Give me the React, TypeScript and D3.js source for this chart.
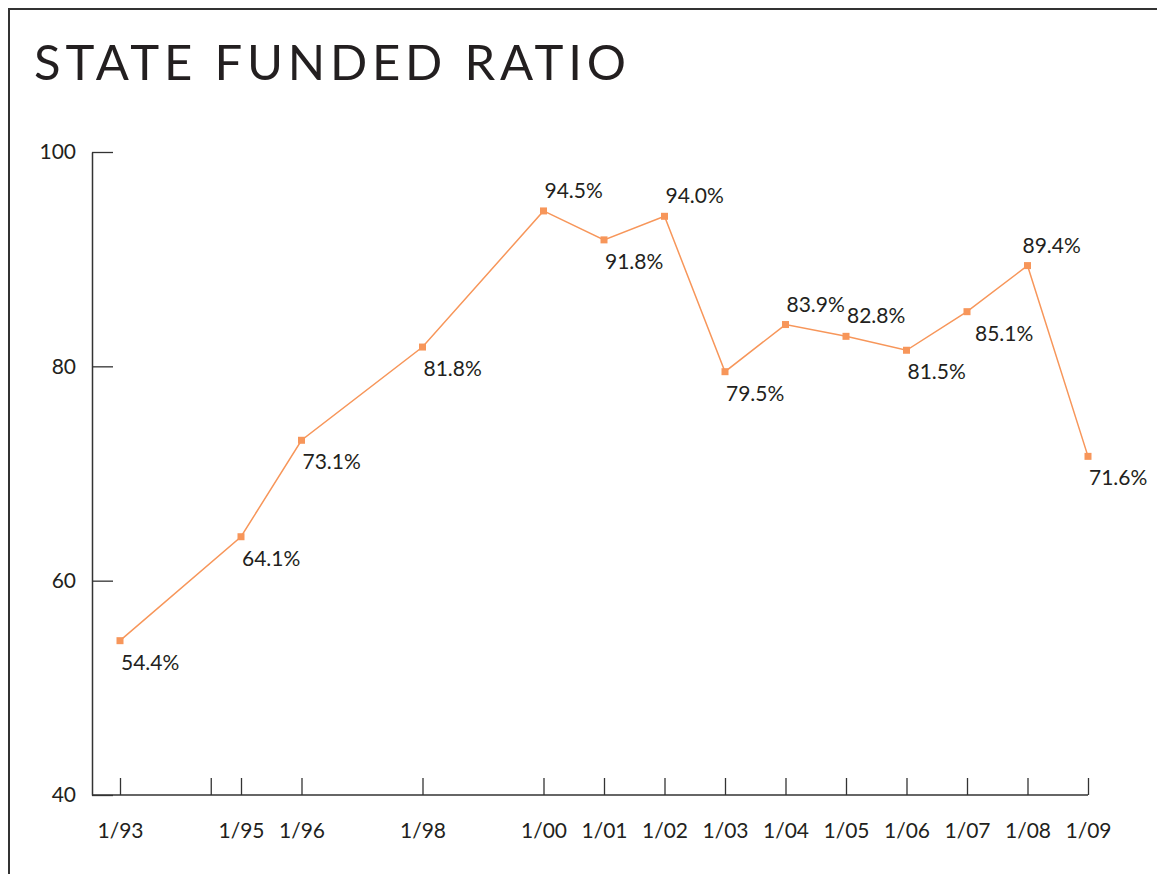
import React, { useRef, useEffect } from 'react';
import * as d3 from 'd3';

// funded ratio by valuation date (January of each year)
const years = [1993, 1995, 1996, 1998, 2000, 2001, 2002, 2003, 2004, 2005, 2006, 2007, 2008, 2009];
const ratios = [54.4, 64.1, 73.1, 81.8, 94.5, 91.8, 94.0, 79.5, 83.9, 82.8, 81.5, 85.1, 89.4, 71.6];
const labelAbove = [2000, 2002, 2004, 2005, 2008];

const xTickValues = [1993, 1994.5, 1995, 1996, 1998, 2000, 2001, 2002, 2003, 2004, 2005, 2006, 2007, 2008, 2009];
const xTickLabels = ['1/93', '', '1/95', '1/96', '1/98', '1/00', '1/01', '1/02', '1/03', '1/04', '1/05', '1/06', '1/07', '1/08', '1/09'];
const yTickValues = [40, 60, 80, 100];

const WIDTH = 1157;
const HEIGHT = 866;
const FONT = 'Lato, "Open Sans", sans-serif';
const INK = '#231f20';
const ORANGE = '#f7965a';

export default function App() {
  const svgRef = useRef<SVGSVGElement>(null);

  useEffect(() => {
    const svg = d3.select(svgRef.current);
    svg.selectAll('*').remove();

    const x = d3.scaleLinear().domain([1993, 2009]).range([112, 1080]);
    const y = d3.scaleLinear().domain([40, 100]).range([787, 144]);

    // frame (bottom edge runs off the page)
    svg
      .append('rect')
      .attr('x', 1)
      .attr('y', 1)
      .attr('width', WIDTH - 2)
      .attr('height', HEIGHT + 20)
      .attr('fill', 'none')
      .attr('stroke', '#333')
      .attr('stroke-width', 2);

    // title
    svg
      .append('text')
      .attr('x', 26)
      .attr('y', 72)
      .attr('textLength', 592)
      .attr('lengthAdjust', 'spacing')
      .style('font-family', FONT)
      .style('font-size', '49px')
      .style('fill', INK)
      .text('STATE FUNDED RATIO');

    // x axis, ticks pointing up
    const xAxis = d3
      .axisBottom(x)
      .tickValues(xTickValues)
      .tickFormat((_, i) => xTickLabels[i])
      .tickSizeInner(-17)
      .tickSizeOuter(0)
      .tickPadding(28);

    const gx = svg.append('g').attr('transform', `translate(0, ${y(40)})`).call(xAxis);
    gx.select('.domain').attr('d', `M${84},0H${x(2009)}`);

    // y axis, ticks pointing right
    const yAxis = d3
      .axisLeft(y)
      .tickValues(yTickValues)
      .tickFormat(d3.format('d'))
      .tickSizeInner(-21)
      .tickSizeOuter(0)
      .tickPadding(16);

    const gy = svg.append('g').attr('transform', 'translate(84, 0)').call(yAxis);

    [gx, gy].forEach((g) => {
      g.select('.domain').attr('stroke', '#333').attr('stroke-width', 1.5);
      g.selectAll('.tick line').attr('stroke', '#333').attr('stroke-width', 1.3);
      g.selectAll('.tick text')
        .style('font-family', FONT)
        .style('font-size', '21px')
        .attr('fill', INK);
    });

    const data = years.map((yr, i) => ({ yr, v: ratios[i] }));

    // line
    const line = d3
      .line<{ yr: number; v: number }>()
      .x((d) => x(d.yr))
      .y((d) => y(d.v));

    svg
      .append('path')
      .datum(data)
      .attr('d', line)
      .attr('fill', 'none')
      .attr('stroke', ORANGE)
      .attr('stroke-width', 1.5);

    // markers
    svg
      .selectAll('.marker')
      .data(data)
      .enter()
      .append('rect')
      .attr('class', 'marker')
      .attr('x', (d) => x(d.yr) - 3.5)
      .attr('y', (d) => y(d.v) - 3.5)
      .attr('width', 7)
      .attr('height', 7)
      .attr('fill', ORANGE);

    // value labels
    svg
      .selectAll('.data-label')
      .data(data)
      .enter()
      .append('text')
      .attr('class', 'data-label')
      .attr('x', (d) => x(d.yr) + (d.yr === 2007 ? 8 : d.yr === 2008 ? -5 : 1))
      .attr('y', (d) => y(d.v) + (labelAbove.includes(d.yr) ? -13 : 29))
      .style('font-family', FONT)
      .style('font-size', '21px')
      .attr('fill', INK)
      .text((d) => `${d.v.toFixed(1)}%`);
  }, []);

  return <svg ref={svgRef} width={WIDTH} height={HEIGHT} style={{ display: 'block' }} />;
}
